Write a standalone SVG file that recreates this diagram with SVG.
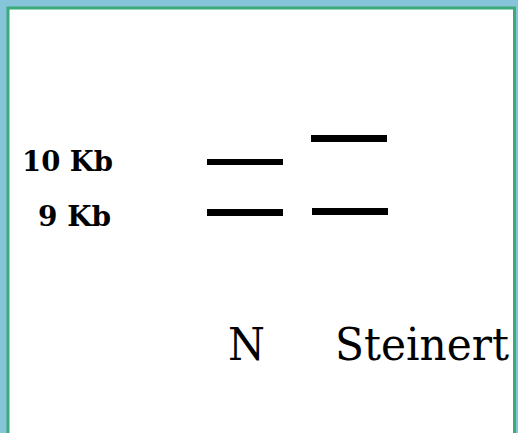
<svg xmlns="http://www.w3.org/2000/svg" width="518" height="433" viewBox="0 0 518 433">
<style>
.bar{fill:#000}
.lbl{font-family:"DejaVu Serif","Liberation Serif",serif;font-weight:bold;font-size:27px;fill:#000}
.lane{font-family:"DejaVu Serif","Liberation Serif",serif;font-size:44px;fill:#000}
</style>
<rect x="0" y="0" width="518" height="433" fill="#86c4da"/>
<rect x="8" y="8" width="506.5" height="440" fill="#fff" stroke="#3daa7a" stroke-width="3"/>
<g id="labels">
<text class="lbl" x="22" y="171" textLength="91" lengthAdjust="spacingAndGlyphs">10 Kb</text>
<text class="lbl" x="38" y="226" textLength="73" lengthAdjust="spacingAndGlyphs">9 Kb</text>
</g>
<g id="lane-N">
<rect class="bar" x="207" y="159" width="76" height="6"/>
<rect class="bar" x="207" y="209" width="76" height="7"/>
<text class="lane" x="228" y="360" textLength="37" lengthAdjust="spacingAndGlyphs">N</text>
</g>
<g id="lane-Steinert">
<rect class="bar" x="311" y="135" width="76" height="7"/>
<rect class="bar" x="312" y="208" width="76" height="7"/>
<text class="lane" x="335" y="360" textLength="174" lengthAdjust="spacingAndGlyphs">Steinert</text>
</g>
<g id="connectors"></g>
</svg>
